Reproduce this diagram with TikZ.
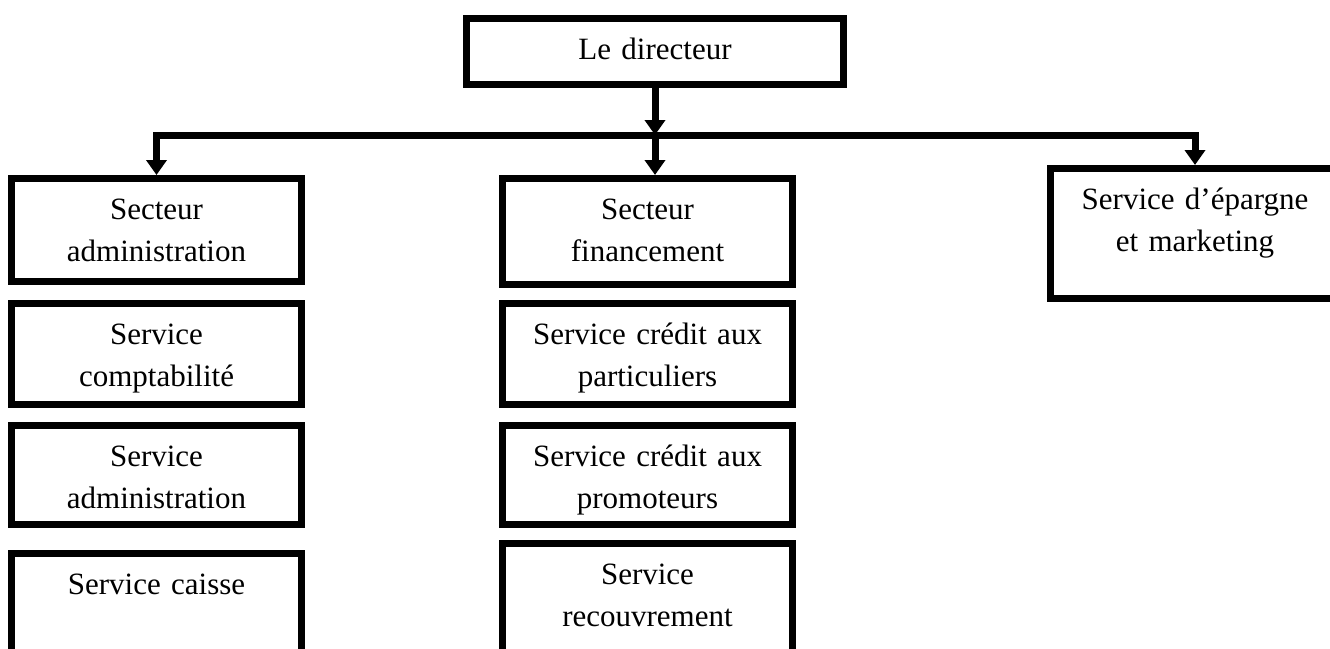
\documentclass[tikz,border=0pt]{standalone}
\usepackage{fontspec}
\setmainfont{Liberation Serif}
\usetikzlibrary{arrows.meta}
\tikzset{
	orgbox/.style={draw, line width=7pt, inner sep=0pt, align=center, text width=290pt, text height=41pt, text depth=#1, anchor=north, font=\fontsize{31pt}{42pt}\selectfont},
	link/.style={line width=7pt, -{Triangle[length=15pt, width=20pt]}}
}

\begin{document}
\begin{tikzpicture}[x=1pt, y=-1pt]
	\clip (0,0) rectangle (1330,648);
	\node [orgbox=25, text width=377pt] (dir) at (655,15) {Le directeur};
	\coordinate (bus) at (0,135);

	\node [orgbox=62] (sa) at (156.5,175) {Secteur\\administration};
	\node [orgbox=60] (scpt) at (156.5,300) {Service\\comptabilité};
	\node [orgbox=58] (sadm) at (156.5,422) {Service\\administration};
	\node [orgbox=86] (scai) at (156.5,550) {Service caisse};

	\node [orgbox=65] (sf) at (647.5,175) {Secteur\\financement};
	\node [orgbox=60] (spart) at (647.5,300) {Service crédit aux\\particuliers};
	\node [orgbox=58] (sprom) at (647.5,422) {Service crédit aux\\promoteurs};
	\node [orgbox=95] (srec) at (647.5,540) {Service\\recouvrement};

	\node [orgbox=89] (sep) at (1195,165) {Service d’épargne\\et marketing};

	\draw [link] (dir.south) -- (dir.south |- bus);
	\draw [link] (dir.south |- bus) -- (dir.south |- sf.north);
	\draw [link] (dir.south |- bus) -| (sa.north);
	\draw [link] (dir.south |- bus) -| (sep.north);
\end{tikzpicture}
\end{document}
